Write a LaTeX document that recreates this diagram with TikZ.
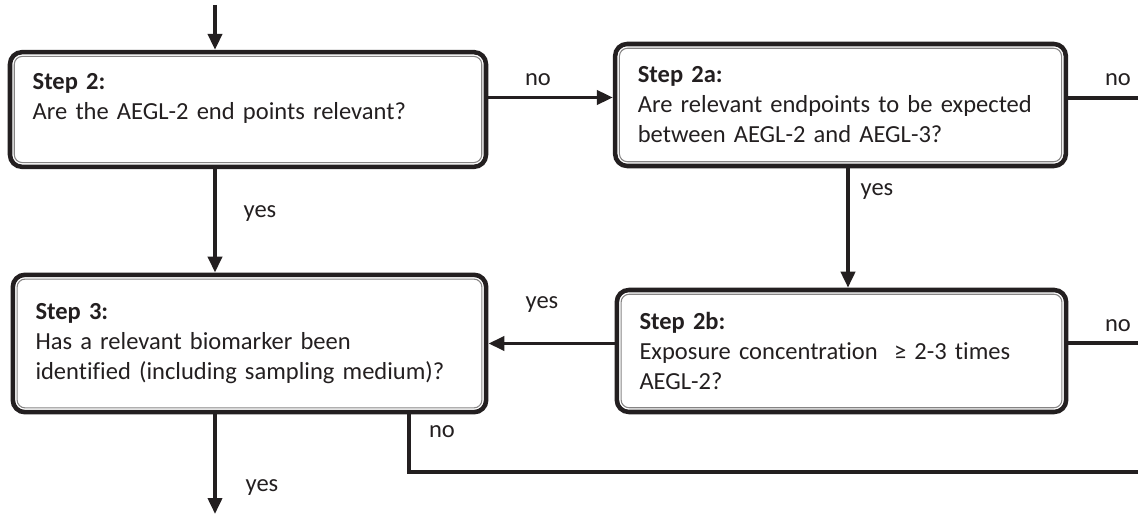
\documentclass[tikz,border=0pt]{standalone}
\usepackage{fontspec}
\setmainfont{Carlito}[Ligatures=NoCommon]
\usetikzlibrary{arrows.meta}
\definecolor{ink}{RGB}{35,31,32}
\tikzset{
  stepbox/.style={draw=ink, line width=3.4pt, rounded corners=9pt, align=left,
    inner xsep=17pt, inner ysep=0pt, text=ink,
    font=\fontsize{18.4}{22.5}\selectfont,
    path picture={\draw[ink!55, line width=0.8pt, rounded corners=6pt]
      ([shift={(3.2pt,-3.2pt)}]path picture bounding box.north west) rectangle
      ([shift={(-3.2pt,3.2pt)}]path picture bounding box.south east);}},
  flow/.style={draw=ink, line width=2.8pt, -{Triangle[length=12pt,width=10.5pt]}},
  link/.style={draw=ink, line width=2.8pt},
  answer/.style={font=\fontsize{18.4}{20}\selectfont, text=ink, inner sep=0pt}
}
\begin{document}
\begin{tikzpicture}[x=0.75pt, y=0.75pt]
  \useasboundingbox (0,0) rectangle (1138,514);

  % the four decision boxes
  \node[stepbox, text width=323pt, minimum height=86pt] (step2) at (248,404.5)
    {\textbf{Step 2:}\\Are the AEGL-2 end points relevant?\\[-10pt]\strut};
  \node[stepbox, text width=304pt, minimum height=91.5pt] (step2a) at (840.5,409)
    {\textbf{Step 2a:}\\Are relevant endpoints to be expected\\between AEGL-2 and AEGL-3?};
  \node[stepbox, text width=321pt, minimum height=103pt] (step3) at (249.5,170.5)
    {\textbf{Step 3:}\\Has a relevant biomarker been\\identified (including sampling medium)?};
  \node[stepbox, text width=303pt, minimum height=91.5pt] (step2b) at (841.5,163)
    {\textbf{Step 2b:}\\Exposure concentration\ ~≥ 2-3 times\\AEGL-2?};

  % free ends of the connectors
  \coordinate (entry) at (215,509);
  \coordinate (exit2a) at (1138,416);
  \coordinate (exit2b) at (1138,171);
  \coordinate (exit3) at (1138,42);
  \coordinate (no3) at (409,42);
  \coordinate (down3) at (215,0);
  \coordinate (yes2a) at (848,300);

  % connectors
  \draw[flow] (entry) -- (entry |- step2.north);
  \draw[flow] ([yshift=9pt]step2.east) -- ([yshift=9pt]step2.east -| step2a.west);
  \draw[link] (step2a.east |- exit2a) -- (exit2a);
  \draw[flow] (entry |- step2.south) -- (entry |- step3.north);
  \draw[flow] (step2a.south -| yes2a) -- (step2b.north -| yes2a);
  \draw[flow] (step2b.west |- step3.east) -- (step3.east);
  \draw[link] (step2b.east |- exit2b) -- (exit2b);
  \draw[link, line join=miter] (step3.south -| no3) -- (no3) -- (exit3);
  \draw[flow] (step3.south -| down3) -- (down3);

  % answers on the connectors
  \foreach \name/\pos/\txt in {no2/{538,434}/no, no2a/{1118,434}/no,
      yes2/{260,300}/yes, yes2a/{877,322}/yes, yes2b/{542,209}/yes,
      no2b/{1118,188}/no, no3/{442,82}/no, yes3/{262,26}/yes} {
    \node[answer] (a\name) at (\pos) {\txt};
  }
\end{tikzpicture}
\end{document}
